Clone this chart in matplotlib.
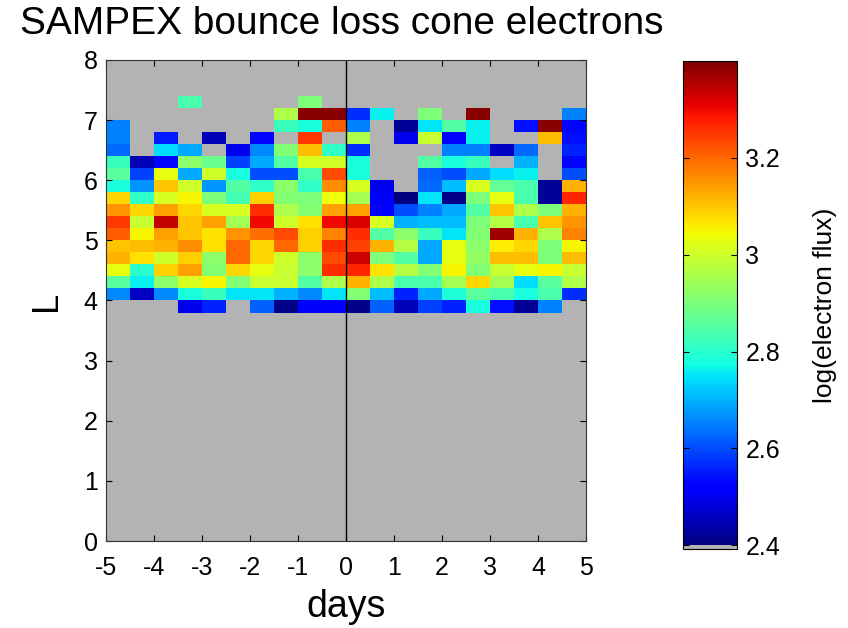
import numpy as np
import matplotlib
matplotlib.use('Agg')
import matplotlib.pyplot as plt
from matplotlib.colors import ListedColormap, Normalize

plt.rcParams['font.family'] = ['Liberation Sans', 'DejaVu Sans']
plt.rcParams['axes.unicode_minus'] = False

# day bins (left edges, width 0.5 day) and L bins (lower edges, width 0.2)
day_edges = np.arange(-5, 5.01, 0.5)
L_edges = np.arange(3.8, 7.41, 0.2)

n = np.nan
# log(electron flux) per day bin, listed from top L bin (7.2-7.4) down to 3.8-4.0
flux_cols = [
    [n, n, 2.65, 2.65, 2.63, 2.82, 2.86, 2.78, 3.08, 3.15, 3.25, 3.21, 3.10, 3.12, 3.03, 2.86, 2.66, n],
    [n, n, n, n, n, 2.45, 2.59, 2.67, 2.81, 3.08, 2.99, 3.05, 3.11, 3.07, 2.80, 2.76, 2.46, n],
    [n, n, n, 2.55, 2.74, 2.53, 3.03, 3.10, 3.01, 3.14, 3.34, 3.14, 3.12, 3.00, 3.09, 2.92, 2.66, n],
    [2.84, n, n, n, 2.69, 2.92, 2.69, 3.00, 3.05, 3.08, 3.10, 3.10, 3.16, 3.09, 3.14, 3.01, 2.78, 2.50],
    [n, n, n, 2.45, n, 2.88, 3.00, 2.67, 2.90, 3.01, 3.14, 3.07, 3.07, 2.92, 2.91, 3.05, 2.82, 2.56],
    [n, n, n, n, 2.50, 2.59, 2.78, 2.85, 2.83, 3.01, 2.95, 3.15, 3.20, 3.20, 3.08, 2.91, 2.75, n],
    [n, n, n, 2.53, 2.66, 2.69, 2.60, 2.81, 3.09, 3.26, 3.30, 3.19, 3.08, 3.08, 3.03, 2.99, 2.75, 2.62],
    [n, 2.96, 2.82, n, 2.91, 2.85, 2.60, 2.92, 2.91, 2.96, 3.00, 3.23, 3.20, 3.00, 2.99, 2.99, 2.70, 2.41],
    [2.90, 3.39, 2.78, 3.25, 3.11, 3.01, 2.84, 2.81, 2.90, 2.91, 3.07, 3.09, 3.09, 2.92, 2.92, 2.85, 2.66, 2.51],
    [n, 3.39, 3.21, n, 2.81, 3.00, 3.23, 3.16, 3.04, 3.14, 3.30, 3.17, 3.26, 3.23, 3.26, 2.96, 2.75, 2.51],
    [n, 2.57, 2.65, 2.96, 2.57, 2.78, 2.78, 3.01, 2.95, 3.14, 3.32, 3.26, 3.24, 3.33, 3.27, 3.12, 2.91, 2.41],
    [n, 2.76, n, n, n, n, n, 2.50, 2.51, 2.51, 3.01, 2.85, 3.12, 2.90, 3.07, 2.96, 2.71, 2.62],
    [n, n, 2.42, 2.50, n, n, n, n, 2.40, 2.60, 2.70, 2.92, 2.97, 2.85, 2.97, 2.84, 2.56, 2.45],
    [n, 2.90, 2.75, 2.99, n, 2.85, 2.62, 2.63, 2.75, 2.65, 2.71, 2.82, 2.69, 2.69, 2.91, 2.84, 2.69, 2.59],
    [n, n, 2.85, 2.53, 2.65, 2.78, 2.60, 2.71, 2.41, 2.69, 2.71, 2.75, 3.03, 3.03, 3.05, 2.95, 2.79, 2.56],
    [n, 3.39, 2.76, 2.76, 2.65, 2.82, 2.69, 3.01, 2.90, 2.85, 2.90, 2.91, 2.92, 2.93, 2.91, 3.08, 2.86, 2.78],
    [n, n, n, n, 2.46, n, 2.74, 2.87, 3.03, 3.10, 2.97, 3.37, 3.06, 3.11, 2.99, 2.95, 2.84, 2.54],
    [n, n, 2.54, n, 2.63, 2.70, 2.76, 2.84, 2.84, 2.96, 2.84, 3.12, 3.08, 3.11, 3.03, 2.74, 2.78, 2.42],
    [n, n, 3.39, 3.11, n, n, n, 2.42, 2.42, 2.90, 3.10, 2.96, 2.90, 2.90, 3.05, 2.86, 2.84, 2.65],
    [n, 2.65, 2.53, 2.54, 2.56, 2.53, 2.60, 3.12, 3.27, 3.12, 3.15, 3.17, 3.05, 3.11, 2.99, 2.96, 2.57, n],
]

x_ticks = list(range(-5, 6))
y_ticks = list(range(0, 9))
cbar_ticks = [2.4, 2.6, 2.8, 3.0, 3.2]
cbar_ticklabels = ['2.4', '2.6', '2.8', '3', '3.2']

gray = (0.70, 0.70, 0.70)
vmin, vmax = 2.4, 3.4

# matlab-ish colormap: a few gray entries below a smooth jet
njet, ngray = 256, 2
jet = plt.get_cmap('jet')(np.linspace(0, 1, njet))
cmap = ListedColormap(np.vstack([[list(gray) + [1.0]] * ngray, jet]))
norm = Normalize(vmin - ngray * (vmax - vmin) / njet, vmax)

Z = np.array(flux_cols).T[::-1]
Z = np.ma.masked_invalid(Z)

fig = plt.figure(figsize=(8.48, 6.28), dpi=100)
ax = fig.add_axes([0.125, 0.1385, 0.566, 0.766])
ax.set_facecolor(gray)
mesh = ax.pcolormesh(day_edges, L_edges, Z, cmap=cmap, norm=norm)
ax.axvline(0, color='black', lw=1)
ax.set_xlim(-5, 5)
ax.set_ylim(0, 8)
ax.set_xticks(x_ticks)
ax.set_yticks(y_ticks)
ax.tick_params(direction='in', top=True, right=True, length=4, width=0.8,
               labelsize=18, pad=6)
ax.tick_params(axis='x', pad=11)
for s in ax.spines.values():
    s.set_color('#333333')
    s.set_linewidth(0.8)
ax.set_xlabel('days', fontsize=27, labelpad=6)
ax.set_ylabel('L', fontsize=26, labelpad=14)

fig.text(0.024, 0.962, 'SAMPEX bounce loss cone electrons', fontsize=28,
         ha='left', va='center')

cax = fig.add_axes([0.8054, 0.1258, 0.0637, 0.777])
cb = fig.colorbar(mesh, cax=cax)
cb.set_ticks(cbar_ticks)
cb.set_ticklabels(cbar_ticklabels)
cax.tick_params(direction='in', left=True, right=True, length=4, width=0.8,
                labelsize=18, pad=6)
cb.outline.set_linewidth(0.8)
cb.set_label('log(electron flux)', fontsize=19, labelpad=24)

fig.savefig('out.png', dpi=100)
